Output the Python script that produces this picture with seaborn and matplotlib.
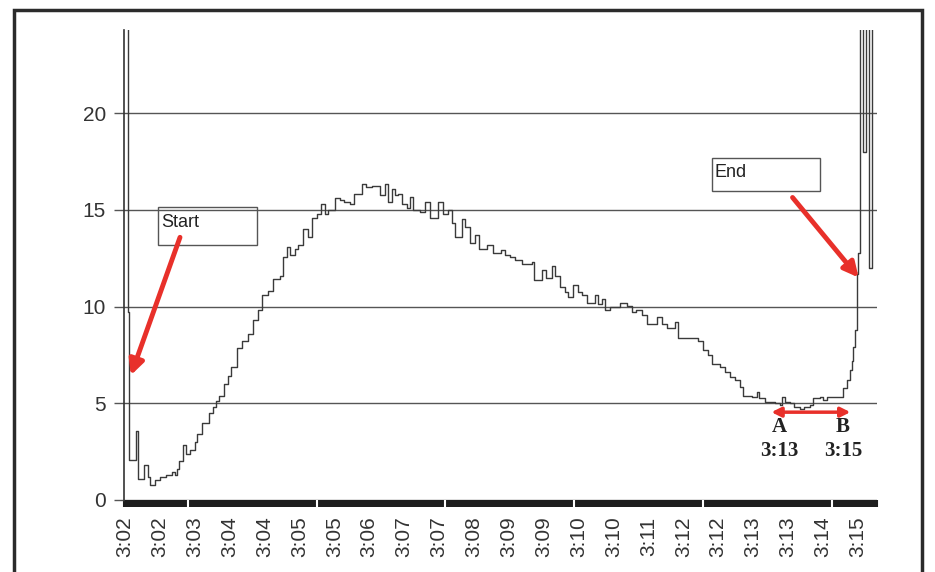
import numpy as np
import pandas as pd
import matplotlib
matplotlib.use("Agg")
import matplotlib.pyplot as plt
from matplotlib.patches import Rectangle
from matplotlib.ticker import MultipleLocator
import seaborn as sns

# recorder trace: seconds after 3:02:00 and reading (26 = off the top of the scale)
seconds = [7, 10, 12, 19, 21, 28, 32, 34, 40, 45, 52, 58, 62, 64, 66, 70, 73, 78,
           83, 86, 91, 99, 103, 106, 110, 115, 119, 123, 129, 135, 141, 146, 152,
           156, 163, 168, 176, 179, 183, 187, 192, 195, 201, 206, 211, 216, 221,
           225, 228, 236, 241, 246, 252, 257, 265, 270, 276, 285, 290, 293, 298,
           301, 304, 309, 314, 317, 321, 328, 334, 339, 348, 353, 359, 363, 366,
           374, 377, 383, 388, 393, 401, 408, 417, 421, 426, 432, 439, 450, 453,
           461, 466, 472, 475, 481, 486, 489, 495, 500, 505, 510, 519, 522, 527,
           530, 535, 546, 554, 559, 564, 570, 575, 586, 592, 597, 606, 609, 617,
           625, 631, 636, 642, 646, 655, 660, 666, 671, 677, 680, 690, 695, 698,
           704, 715, 720, 722, 726, 731, 736, 742, 747, 753, 756, 764, 767, 771,
           785, 789, 793, 797, 799, 800, 802, 804, 805, 807, 811, 814, 817, 820,
           826]
reading = [26, 9.7, 2.06, 3.58, 1.08, 1.8, 1.2, 0.77, 1.03, 1.2, 1.3, 1.45, 1.3,
           1.6, 2.0, 2.84, 2.4, 2.6, 3.0, 3.4, 3.97, 4.5, 4.8, 5.1, 5.4, 6.0, 6.4,
           6.9, 7.85, 8.2, 8.6, 9.3, 9.8, 10.6, 10.8, 11.4, 11.6, 12.56, 13.1,
           12.65, 13.0, 13.2, 14.0, 13.6, 14.6, 14.8, 15.3, 14.8, 15.0, 15.6, 15.5,
           15.4, 15.3, 15.8, 16.35, 16.2, 16.25, 15.75, 16.35, 15.4, 16.1, 15.75,
           15.8, 15.3, 15.1, 15.65, 15.0, 14.9, 15.4, 14.6, 15.4, 14.8, 15.0, 14.3,
           13.6, 14.55, 14.1, 13.3, 13.7, 13.0, 13.2, 12.75, 12.9, 12.65, 12.55,
           12.4, 12.2, 12.3, 11.35, 11.9, 11.5, 12.1, 11.6, 11.0, 10.75, 10.5,
           11.1, 10.75, 10.6, 10.2, 10.6, 10.15, 10.4, 9.8, 9.96, 10.2, 10.05, 9.7,
           9.8, 9.55, 9.1, 9.45, 9.1, 8.9, 9.2, 8.4, 8.35, 8.4, 8.2, 7.75, 7.5,
           7.05, 6.9, 6.6, 6.35, 6.2, 5.85, 5.4, 5.3, 5.6, 5.25, 5.06, 5.0, 4.9,
           5.3, 5.06, 5.0, 4.8, 4.7, 4.8, 4.9, 5.25, 5.3, 5.15, 5.3, 5.3, 5.8, 6.2,
           6.7, 7.2, 7.9, 8.8, 11.7, 12.75, 26, 18.0, 26, 12.0, 26, 26]

tick_labels = ["3:02", "3:02", "3:03", "3:04", "3:04", "3:05", "3:05", "3:06",
               "3:07", "3:07", "3:08", "3:09", "3:09", "3:10", "3:10", "3:11",
               "3:12", "3:12", "3:13", "3:13", "3:14", "3:15"]
y_ticks = [0, 5, 10, 15, 20]

RED = "#e8302a"
GRID = "#555555"
TEXT = "#333333"

sns.set_theme(style="white")
plt.rcParams["font.family"] = ["Liberation Sans", "DejaVu Sans"]

fig = plt.figure(figsize=(9.35, 5.72), dpi=100)
ax = fig.add_axes([0.1326, 0.1259, 0.8054, 0.8217])

df = pd.DataFrame({"t": seconds, "v": reading})
sns.lineplot(data=df, x="t", y="v", estimator=None, drawstyle="steps-post",
             color="#3a3a3a", lw=1.0, ax=ax)

ax.set_xlim(6, 826)
ax.set_ylim(0, 24.3)
ax.set_xlabel("")
ax.set_ylabel("")

# horizontal grid
ax.set_yticks(y_ticks)
ax.yaxis.grid(True, color=GRID, lw=1.0)
ax.xaxis.grid(False)
ax.tick_params(axis="y", length=7, width=1, color=GRID, labelsize=15,
               labelcolor=TEXT, pad=6, left=True)

# x ticks: labels every 38 s, dense dark band of minor ticks
ax.set_xticks([7 + 38 * k for k in range(len(tick_labels))])
ax.set_xticklabels(tick_labels, rotation=90)
ax.xaxis.set_minor_locator(MultipleLocator(2))
ax.tick_params(axis="x", which="major", length=5, width=1.3, color="#1e1e1e",
               labelsize=15, labelcolor=TEXT, pad=7, bottom=True)
ax.tick_params(axis="x", which="minor", length=5, width=1.5, color="#1e1e1e",
               bottom=True)
ax.vlines(np.arange(75.6, 826, 140.2), -0.016, 0, color="white", lw=1.5,
          transform=ax.get_xaxis_transform(), clip_on=False, zorder=5)

for side in ["top", "right", "bottom"]:
    ax.spines[side].set_visible(False)
ax.spines["left"].set_color("#333333")
ax.spines["left"].set_linewidth(1.2)

# callout boxes
ax.add_patch(Rectangle((43, 13.2), 108, 1.93, fill=False, ec=GRID, lw=1.0))
ax.text(47, 14.35, "Start", fontsize=13, color="#222222", va="center")
ax.add_patch(Rectangle((646, 16.0), 118, 1.7, fill=False, ec=GRID, lw=1.0))
ax.text(649, 16.93, "End", fontsize=13, color="#222222", va="center")

# red arrows
ax.annotate("", xy=(13.5, 6.45), xytext=(67, 13.58),
            arrowprops=dict(arrowstyle="-|>", color=RED, lw=3.5,
                            mutation_scale=22, shrinkA=0, shrinkB=0))
ax.annotate("", xy=(806, 11.5), xytext=(734, 15.64),
            arrowprops=dict(arrowstyle="-|>", color=RED, lw=3.5,
                            mutation_scale=22, shrinkA=0, shrinkB=0))
ax.annotate("", xy=(711, 4.54), xytext=(797, 4.54),
            arrowprops=dict(arrowstyle="<|-|>", color=RED, lw=2.5,
                            mutation_scale=14, shrinkA=0, shrinkB=0))

serif = ["Liberation Serif", "DejaVu Serif"]
for xs, letter, clock in [(720, "A", "3:13"), (789, "B", "3:15")]:
    ax.text(xs, 3.77, letter, fontsize=15, family=serif, weight="bold",
            color="#222222", ha="center", va="center")
    ax.text(xs, 2.55, clock, fontsize=15, family=serif, weight="bold",
            color="#222222", ha="center", va="center")

# outer frame of the figure
fig.patches.append(Rectangle((0.015, -0.05), 0.971, 1.0325, fill=False,
                             ec="#2b2b2b", lw=2.5, transform=fig.transFigure))

fig.savefig("out.png", dpi=100)
